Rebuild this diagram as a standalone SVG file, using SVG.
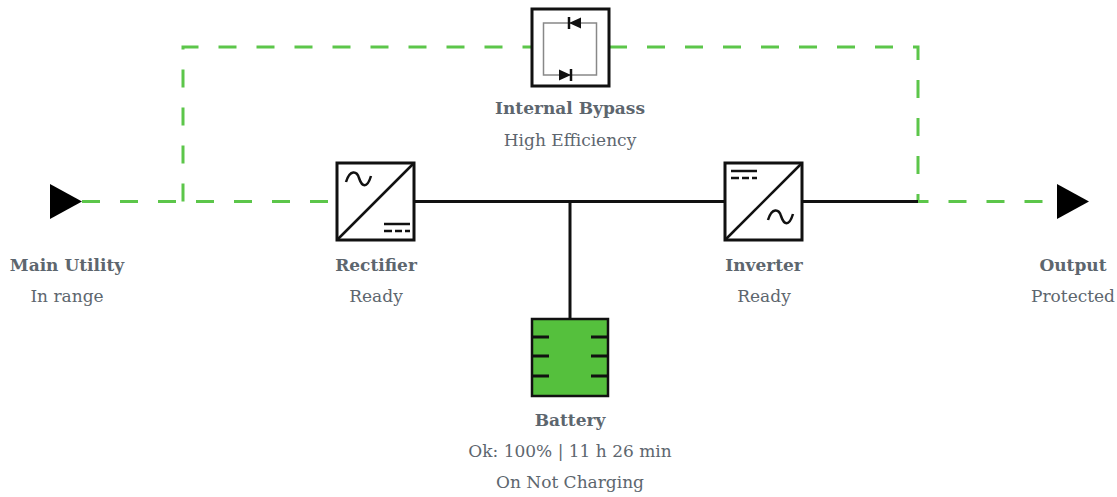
<svg xmlns="http://www.w3.org/2000/svg" width="1117" height="497" viewBox="0 0 1117 497">
<style>
.lbl{font-family:"DejaVu Serif","Liberation Serif",serif;font-size:17px;fill:#5d666e;text-anchor:middle}
.b{font-weight:bold}
.box{fill:#fff;stroke:#111;stroke-width:3}
.sym{fill:none;stroke:#111;stroke-width:2.5}
.dash{fill:none;stroke:#5cc64a;stroke-width:3;stroke-dasharray:18 20}
.wire{fill:none;stroke:#111;stroke-width:3}
</style>
<rect width="1117" height="497" fill="#fff"/>
<g id="connectors">
<path class="dash" d="M82 201.5 H337"/>
<path class="dash" d="M183 201.5 V47 H532"/>
<path class="dash" d="M609 47 H918 V201.5 H1057"/>
<path class="wire" d="M415 201.5 H725"/>
<path class="wire" d="M802 201.5 H918"/>
<path class="wire" d="M570 201.5 V318"/>
</g>
<g id="main-utility">
<polygon points="50,184 82,201.5 50,219" fill="#000"/>
<text class="lbl b" x="67" y="271">Main Utility</text>
<text class="lbl" x="67" y="302">In range</text>
</g>
<g id="output">
<polygon points="1057,184 1089,201.5 1057,219" fill="#000"/>
<text class="lbl b" x="1073" y="271">Output</text>
<text class="lbl" x="1073" y="302">Protected</text>
</g>
<g id="internal-bypass">
<rect class="box" x="532" y="9" width="77" height="77"/>
<rect x="543.5" y="23" width="53" height="52" fill="none" stroke="#888" stroke-width="1.5"/>
<polygon points="569,23 581,17.5 581,28.5" fill="#111"/>
<line x1="569" y1="17" x2="569" y2="29" stroke="#111" stroke-width="2.5"/>
<polygon points="559,69.5 571,75 559,80.5" fill="#111"/>
<line x1="571" y1="69" x2="571" y2="81" stroke="#111" stroke-width="2.5"/>
<text class="lbl b" x="570" y="114">Internal Bypass</text>
<text class="lbl" x="570" y="146">High Efficiency</text>
</g>
<g id="rectifier">
<rect class="box" x="337" y="163" width="77" height="77"/>
<line class="sym" x1="337" y1="240" x2="414" y2="163"/>
<path class="sym" d="M346 182 C350 169 357 171 359 178 C362 187 367 189 371 176"/>
<line class="sym" x1="384" y1="224" x2="410" y2="224"/>
<path class="sym" d="M384 231 H392 M395 231 H402 M405 231 H410"/>
<text class="lbl b" x="376" y="271">Rectifier</text>
<text class="lbl" x="376" y="302">Ready</text>
</g>
<g id="inverter">
<rect class="box" x="725" y="163" width="77" height="77"/>
<line class="sym" x1="725" y1="240" x2="802" y2="163"/>
<line class="sym" x1="731" y1="171" x2="757" y2="171"/>
<path class="sym" d="M731 178 H739 M742 178 H749 M752 178 H757"/>
<path class="sym" d="M768 220 C772 207 779 209 781 216 C784 225 789 227 793 214"/>
<text class="lbl b" x="764" y="271">Inverter</text>
<text class="lbl" x="764" y="302">Ready</text>
</g>
<g id="battery">
<rect x="532" y="319" width="76" height="77" fill="#55c03d" stroke="#111" stroke-width="2.5"/>
<path class="wire" d="M532 337 H549 M532 356 H549 M532 376 H549 M591 337 H608 M591 356 H608 M591 376 H608" stroke-width="2.5"/>
<text class="lbl b" x="570" y="426">Battery</text>
<text class="lbl" x="570" y="457">Ok: 100% | 11 h 26 min</text>
<text class="lbl" x="570" y="488">On Not Charging</text>
</g>
</svg>
